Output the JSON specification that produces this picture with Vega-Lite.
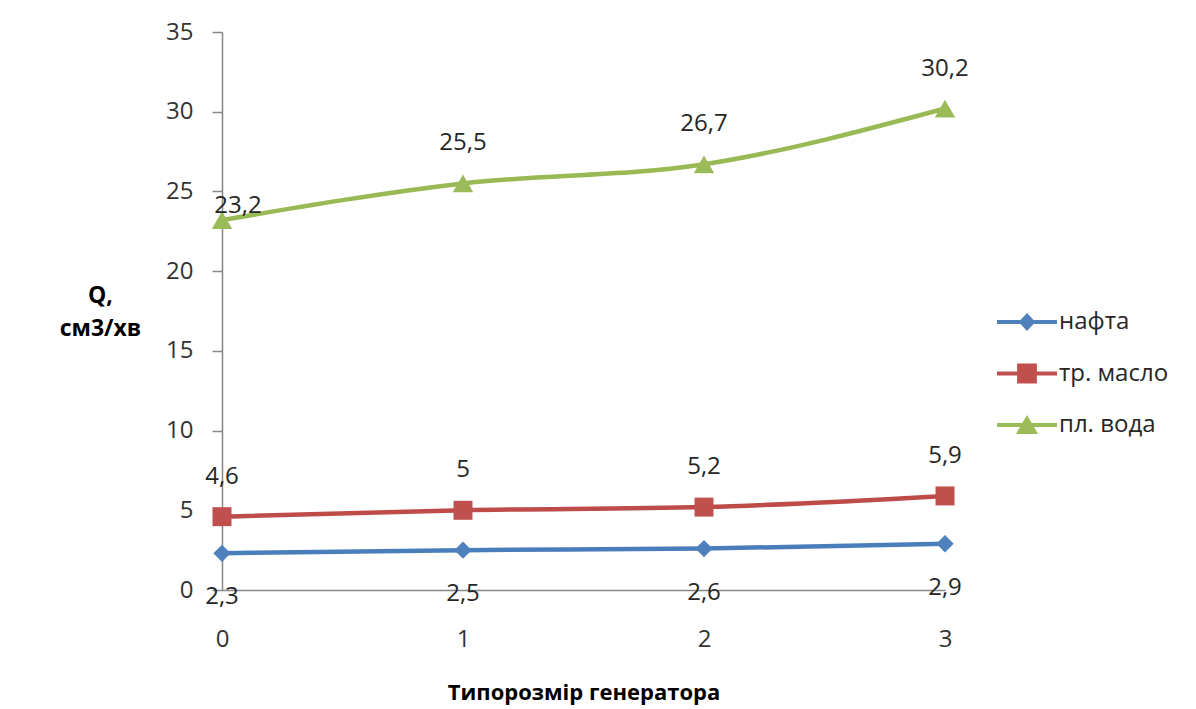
{
  "$schema": "https://vega.github.io/schema/vega-lite/v6.json",
  "width": 723,
  "height": 558,
  "autosize": "none",
  "padding": {"left": 222, "top": 32, "right": 251, "bottom": 119},
  "background": "white",
  "config": {
    "view": {"stroke": null},
    "font": "Open Sans",
    "locale": {"number": {"decimal": ",", "thousands": " ", "grouping": [3], "currency": ["", ""]}}
  },
  "data": {
    "values": [
      {"x": 0, "series": "нафта", "q": 2.3},
      {"x": 1, "series": "нафта", "q": 2.5},
      {"x": 2, "series": "нафта", "q": 2.6},
      {"x": 3, "series": "нафта", "q": 2.9},
      {"x": 0, "series": "тр. масло", "q": 4.6},
      {"x": 1, "series": "тр. масло", "q": 5},
      {"x": 2, "series": "тр. масло", "q": 5.2},
      {"x": 3, "series": "тр. масло", "q": 5.9},
      {"x": 0, "series": "пл. вода", "q": 23.2},
      {"x": 1, "series": "пл. вода", "q": 25.5},
      {"x": 2, "series": "пл. вода", "q": 26.7},
      {"x": 3, "series": "пл. вода", "q": 30.2}
    ]
  },
  "encoding": {
    "x": {
      "field": "x", "type": "quantitative",
      "scale": {"domain": [0, 3], "nice": false, "zero": false},
      "axis": {
        "values": [0, 1, 2, 3], "format": "d", "ticks": false, "grid": false,
        "domainColor": "#868686", "domainWidth": 1.5,
        "labelPadding": 37, "labelFontSize": 24, "labelColor": "#333333", "labelFlush": false,
        "title": "Типорозмір генератора", "titleFontSize": 22, "titleFontWeight": "bold",
        "titleColor": "#000000", "titleY": 102, "titleBaseline": "middle"
      }
    },
    "y": {
      "field": "q", "type": "quantitative",
      "scale": {"domain": [0, 35], "nice": false},
      "axis": {
        "values": [0, 5, 10, 15, 20, 25, 30, 35], "grid": false,
        "tickSize": 10, "tickColor": "#868686", "tickWidth": 1.5,
        "domainColor": "#868686", "domainWidth": 1.5,
        "labelPadding": 19, "labelFontSize": 24, "labelColor": "#333333",
        "title": ["Q,", "см3/хв"], "titleAngle": 0, "titleFontWeight": "bold",
        "titleFontSize": 23, "titleColor": "#000000", "titleX": -122, "titleY": 252,
        "titleAlign": "center", "titleBaseline": "top", "titleLineHeight": 33
      }
    }
  },
  "layer": [
    {
      "mark": {"type": "line", "strokeWidth": 4.5, "interpolate": "monotone"},
      "encoding": {
        "stroke": {"field": "series", "type": "nominal",
          "scale": {"domain": ["нафта", "тр. масло", "пл. вода"], "range": ["#4a7ebb", "#be4b48", "#98b954"]},
          "legend": null}
      }
    },
    {
      "mark": {"type": "point", "filled": true, "opacity": 1, "strokeWidth": 0},
      "encoding": {
        "fill": {"field": "series", "type": "nominal",
          "scale": {"domain": ["нафта", "тр. масло", "пл. вода"], "range": ["#4f81bd", "#c0504d", "#9bbb59"]},
          "legend": null},
        "shape": {"field": "series", "type": "nominal",
          "scale": {"domain": ["нафта", "тр. масло", "пл. вода"], "range": ["diamond", "square", "triangle-up"]},
          "legend": null},
        "size": {"field": "series", "type": "nominal",
          "scale": {"domain": ["нафта", "тр. масло", "пл. вода"], "range": [300, 420, 420]},
          "legend": null}
      }
    },
    {
      "transform": [{"filter": "datum.series === 'нафта'"}],
      "mark": {"type": "text", "dy": 44, "fontSize": 24, "color": "#262626"},
      "encoding": {"text": {"field": "q", "type": "quantitative", "format": "~g"}}
    },
    {
      "transform": [{"filter": "datum.series === 'тр. масло'"}],
      "mark": {"type": "text", "dy": -40, "fontSize": 24, "color": "#262626"},
      "encoding": {"text": {"field": "q", "type": "quantitative", "format": "~g"}}
    },
    {
      "transform": [{"filter": "datum.series === 'пл. вода' && datum.x > 0"}],
      "mark": {"type": "text", "dy": -40, "fontSize": 24, "color": "#262626"},
      "encoding": {"text": {"field": "q", "type": "quantitative", "format": "~g"}}
    },
    {
      "transform": [{"filter": "datum.series === 'пл. вода' && datum.x === 0"}],
      "mark": {"type": "text", "dx": 16, "dy": -14, "fontSize": 24, "color": "#262626"},
      "encoding": {"text": {"field": "q", "type": "quantitative", "format": "~g"}}
    },
    {
      "mark": {"type": "point", "filled": true, "opacity": 0},
      "encoding": {
        "color": {"field": "series", "type": "nominal",
          "scale": {"domain": ["нафта", "тр. масло", "пл. вода"], "range": ["#4f81bd", "#c0504d", "#9bbb59"]},
          "legend": {"orient": "none", "legendX": 775, "legendY": 260, "title": null,
            "labelFontSize": 24, "labelColor": "#262626", "symbolSize": 3600,
            "symbolOpacity": 1, "symbolStrokeWidth": 0, "rowPadding": 9.5, "labelOffset": 2}},
        "shape": {"field": "series", "type": "nominal",
          "scale": {"domain": ["нафта", "тр. масло", "пл. вода"],
            "range": [
              "M-1,-0.07H1V0.07H-1Z M0,-0.3L0.28,0L0,0.3L-0.28,0Z",
              "M-1,-0.07H1V0.07H-1Z M-0.33,-0.33H0.33V0.33H-0.33Z",
              "M-1,-0.07H1V0.07H-1Z M0,-0.33L0.37,0.3L-0.37,0.3Z"
            ]},
          "legend": {"orient": "none", "legendX": 775, "legendY": 260, "title": null,
            "labelFontSize": 24, "labelColor": "#262626", "symbolSize": 3600,
            "symbolOpacity": 1, "symbolStrokeWidth": 0, "rowPadding": 9.5, "labelOffset": 2}}
      }
    }
  ],
  "resolve": {"scale": {"shape": "independent", "color": "independent", "size": "independent", "fill": "independent", "stroke": "independent"}}
}
